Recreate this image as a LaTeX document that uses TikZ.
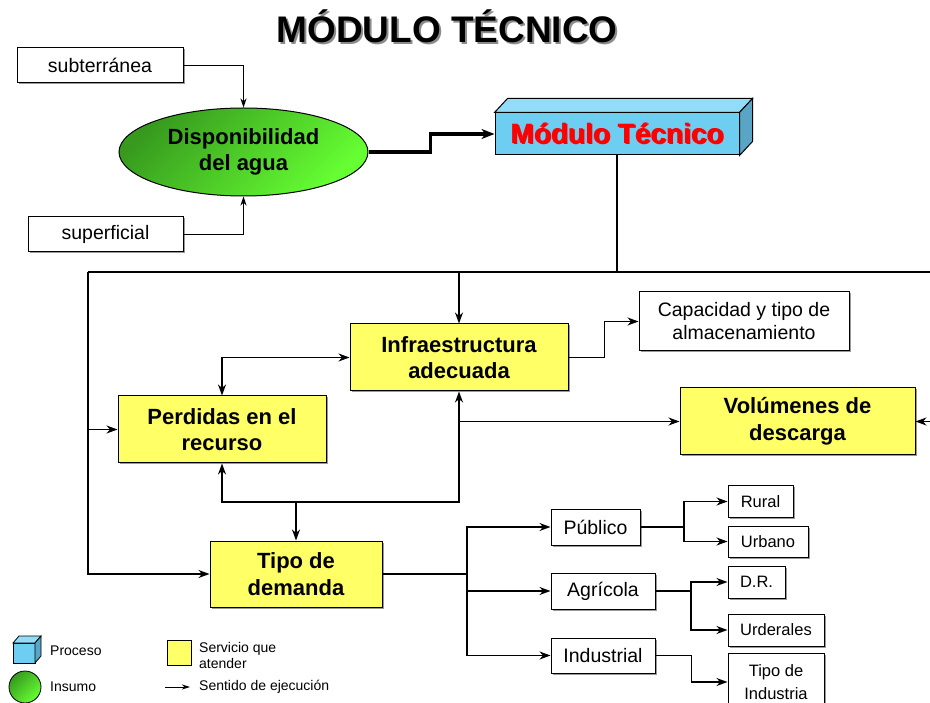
\documentclass[tikz,border=0pt]{standalone}
\usepackage{fontspec}
\setmainfont{Liberation Sans}
\usetikzlibrary{arrows.meta,shadows,calc,shapes.geometric}
\definecolor{yel}{HTML}{FFFF66}
\definecolor{gdark}{HTML}{379A1E}
\definecolor{glight}{HTML}{66FF33}
\definecolor{bfront}{HTML}{6DCEF2}
\definecolor{btop}{HTML}{93DCF7}
\definecolor{bside}{HTML}{5AA5C5}
\newcommand{\shadowtext}[3]{\rlap{\hspace*{#2}\raisebox{-#2}{\textcolor{#3}{#1}}}#1}
\begin{document}
\begin{tikzpicture}[x=1pt,y=-1pt,
  arr/.style={-{Stealth[length=11pt,width=8pt,inset=3.5pt]}},
  darr/.style={{Stealth[length=11pt,width=8pt,inset=3.5pt]}-{Stealth[length=11pt,width=8pt,inset=3.5pt]}},
  conn/.style={line width=1.4pt},
  mainc/.style={line width=2pt},
  thinc/.style={line width=1pt},
  shad/.style={general shadow={fill=black!40, shadow xshift=1.5pt, shadow yshift=-1.5pt}},
  ybox/.style={draw, line width=1pt, fill=yel, inner sep=0pt, align=center, shad,
    font=\bfseries\fontsize{22}{26.5}\selectfont},
  wbox/.style={draw, line width=1pt, fill=white, inner sep=0pt, align=center, shad,
    font=\fontsize{19.5}{23}\selectfont},
  sbox/.style={draw, line width=1pt, fill=white, inner sep=0pt, align=center, shad,
    font=\fontsize{16.5}{22}\selectfont},
  legtext/.style={anchor=west, inner sep=0pt, align=left, font=\fontsize{14}{16}\selectfont},
  greenfill/.style={top color=gdark, bottom color=glight, shading angle=45}
]
\useasboundingbox (0,0) rectangle (930,703);
\clip (0,0) rectangle (930,703);

% Title
\node[anchor=base, font=\bfseries\fontsize{37}{40}\selectfont] (title) at (447,43) {\shadowtext{MÓDULO TÉCNICO}{2pt}{black!45}};

% Inputs
\node[wbox, minimum width=166pt, minimum height=35pt] (subt) at (100,65.5) {subterránea};
\node[wbox, minimum width=155pt, minimum height=35pt] (sup) at (105.5,234.5) {superficial};
\node[ellipse, draw, line width=1pt, greenfill, inner sep=0pt, minimum width=249pt, minimum height=88pt, align=center,
  font=\bfseries\fontsize{22}{26}\selectfont] (disp) at (243.5,152) {Disponibilidad\\del agua};

% Process box (3D)
\node[draw, line width=1pt, fill=bfront, minimum width=244pt, minimum height=42pt, inner sep=0pt] (mod) at (617,134) {};
\draw[line width=1pt, fill=btop] (mod.north west) -- ++(13,-14) -- ($(mod.north east)+(13,-14)$) -- (mod.north east) -- cycle;
\draw[line width=1pt, fill=bside] (mod.north east) -- ++(13,-14) -- ($(mod.south east)+(13,-14)$) -- (mod.south east) -- cycle;
\node[font=\bfseries\fontsize{28}{30}\selectfont] (modtx) at (mod.center) {\shadowtext{\textcolor{red}{Módulo Técnico}}{1.5pt}{black!85!red}};

% Service boxes
\node[ybox, minimum width=218pt, minimum height=67pt] (infra) at (459,357.5) {Infraestructura\\adecuada};
\node[ybox, minimum width=208pt, minimum height=67pt] (perd) at (222,429.5) {Perdidas en el\\recurso};
\node[ybox, minimum width=235pt, minimum height=67pt] (vol) at (797.5,421.5) {Volúmenes de\\descarga};
\node[ybox, minimum width=172pt, minimum height=66pt] (tipo) at (296,574) {Tipo de\\demanda};
\node[wbox, minimum width=210pt, minimum height=59pt] (cap) at (744,321.5) {Capacidad y tipo de\\almacenamiento};

% Demand types
\node[wbox, minimum width=89pt, minimum height=36pt] (pub) at (595.5,527) {Público};
\node[wbox, minimum width=104pt, minimum height=36pt] (agr) at (603,591) {Agrícola};
\node[wbox, minimum width=104pt, minimum height=35pt] (ind) at (603,655.5) {Industrial};
\node[sbox, minimum width=65pt, minimum height=31pt] (rur) at (760.5,501.5) {Rural};
\node[sbox, minimum width=80pt, minimum height=31pt] (urb) at (768,541.5) {Urbano};
\node[sbox, minimum width=57pt, minimum height=32pt] (dr) at (756.5,582) {D.R.};
\node[sbox, minimum width=96pt, minimum height=32pt] (urd) at (776,630) {Urderales};
\node[sbox, minimum width=96pt, minimum height=58pt, font=\fontsize{16.5}{23}\selectfont] (tind) at (776,682) {Tipo de\\Industria};

% Connectors: inputs
\draw[thinc,-{Stealth[length=9pt,width=6pt,inset=3pt]}] (subt.east) -| (disp.north);
\draw[thinc,-{Stealth[length=9pt,width=6pt,inset=3pt]}] (sup.east) -| (disp.south);
\draw[line width=3.5pt, -{Stealth[length=13pt,width=10pt,inset=4pt]}] (disp.east) -- ++(62,0) |- (mod.west);

% Main distribution
\coordinate (tl) at (88,272);
\coordinate (tr) at (930,272);
\draw[conn] (mod.south) -- (mod.south |- tl);
\draw[mainc] (tl) -- (tr);
\draw[conn,arr] (infra.north |- tl) -- (infra.north);
\draw[conn,arr] (tl) |- (tipo.west);
\draw[conn,arr] (tl |- perd.west) -- (perd.west);
\draw[conn,darr] (infra.west) -| (perd.north);
\draw[conn,arr] (infra.east) -- ++(36,0) |- (cap.west);

\coordinate (j) at (296,502);
\draw[conn,arr] (j) -- (tipo.north);
\draw[conn,arr] (j) -| (perd.south);
\draw[conn,arr] (j) -| (infra.south);
\draw[conn,arr] (infra.south |- vol.west) -- (vol.west);
\coordinate (vr) at (930,421.5);
\draw[conn,arr] (vr) -- (vol.east);

% Demand tree
\coordinate (tb) at (467,574);
\draw[mainc] (tipo.east) -- (tb);
\draw[conn,arr] (tb) |- (pub.west);
\draw[conn,arr] (tb) |- (agr.west);
\draw[conn,arr] (tb) |- (ind.west);
\coordinate (pb) at (684,527);
\draw[mainc] (pub.east) -- (pb);
\draw[conn,arr] (pb) |- (rur.west);
\draw[conn,arr] (pb) |- (urb.west);
\coordinate (ab) at (691,591);
\draw[mainc] (agr.east) -- (ab);
\draw[conn,arr] (ab) |- (dr.west);
\draw[conn,arr] (ab) |- (urd.west);
\draw[conn,arr] (ind.east) -- ++(36,0) |- (tind.west);

% Legend
\draw[line width=0.8pt, fill=bfront] (13,643) rectangle (35,663);
\draw[line width=0.8pt, fill=btop] (13,643) -- (19,636) -- (41,636) -- (35,643) -- cycle;
\draw[line width=0.8pt, fill=bside] (35,643) -- (41,636) -- (41,656) -- (35,663) -- cycle;
\node[legtext] (lproc) at (50,651) {Proceso};
\node[circle, draw, line width=0.8pt, greenfill, minimum size=32pt, inner sep=0pt] (lcirc) at (25,687) {};
\node[legtext] (lins) at (50,687) {Insumo};
\node[draw, line width=0.8pt, fill=yel, minimum width=24pt, minimum height=25pt, inner sep=0pt] (lsq) at (179,652.5) {};
\node[legtext] (lserv) at (199,655) {Servicio que\\atender};
\coordinate (la1) at (165,687);
\coordinate (la2) at (190,687);
\draw[line width=1pt, -{Stealth[length=8pt,width=5pt,inset=2.5pt]}] (la1) -- (la2);
\node[legtext] (lsent) at (199,687) {Sentido de ejecución};
\end{tikzpicture}
\end{document}
